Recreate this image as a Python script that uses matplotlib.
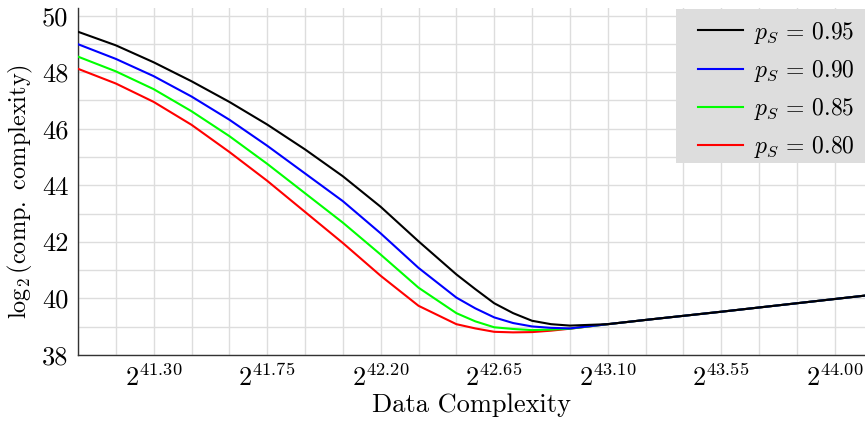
import matplotlib
matplotlib.use("Agg")
import matplotlib.pyplot as plt
from matplotlib.patches import Rectangle
from matplotlib.ticker import MultipleLocator, FixedLocator

plt.rcParams['font.family'] = 'serif'
plt.rcParams['font.serif'] = ['cmr10', 'DejaVu Serif']
plt.rcParams['mathtext.fontset'] = 'cm'
plt.rcParams['axes.formatter.use_mathtext'] = True

# log2 of data complexity
x = [41.00, 41.15, 41.30, 41.45, 41.60, 41.75, 41.90, 42.05, 42.20, 42.35,
     42.50, 42.575, 42.65, 42.725, 42.80, 42.875, 42.95, 43.10, 43.25,
     43.55, 43.85, 44.12]

p95 = [49.43, 48.95, 48.35, 47.68, 46.95, 46.15, 45.27, 44.32, 43.24, 42.02,
       40.85, 40.33, 39.83, 39.48, 39.21, 39.09, 39.04, 39.09, 39.24,
       39.53, 39.83, 40.10]
p90 = [48.99, 48.47, 47.86, 47.14, 46.32, 45.40, 44.42, 43.44, 42.30, 41.08,
       40.03, 39.65, 39.33, 39.13, 39.01, 38.96, 38.94, 39.09, 39.24,
       39.53, 39.83, 40.10]
p85 = [48.55, 48.03, 47.40, 46.62, 45.74, 44.76, 43.72, 42.68, 41.55, 40.38,
       39.48, 39.19, 38.98, 38.92, 38.88, 38.90, 38.93, 39.09, 39.24,
       39.53, 39.83, 40.10]
p80 = [48.12, 47.60, 46.95, 46.14, 45.18, 44.16, 43.06, 41.96, 40.80, 39.74,
       39.09, 38.94, 38.82, 38.80, 38.81, 38.86, 38.93, 39.09, 39.24,
       39.53, 39.83, 40.10]

series = [(p95, 'black', r'$p_S\,=\,0.95$'),
          (p90, '#0000ff', r'$p_S\,=\,0.90$'),
          (p85, '#00ff00', r'$p_S\,=\,0.85$'),
          (p80, '#ff0000', r'$p_S\,=\,0.80$')]

xticks = [41.30, 41.75, 42.20, 42.65, 43.10, 43.55, 44.00]
yticks = [38, 40, 42, 44, 46, 48, 50]

fig = plt.figure(figsize=(8.65, 4.23), dpi=100)
ax = fig.add_axes([78/865, 1 - 355/423, 1 - 78/865, 347/423])

for i, (ys, col, lab) in enumerate(series):
    ax.plot(x, ys, color=col, lw=1.5, label=lab, zorder=10 - i)

ax.set_xlim(41.0, 44.12)
ax.set_ylim(38, 50.27)

ax.xaxis.set_major_locator(FixedLocator(xticks))
ax.set_xticklabels([r'$2^{%.2f}$' % t for t in xticks])
ax.xaxis.set_minor_locator(MultipleLocator(0.15, offset=0.05))
ax.set_yticks(yticks)
ax.set_yticklabels([str(t) for t in yticks])
ax.yaxis.set_minor_locator(MultipleLocator(1))

ax.grid(True, which='both', color='#dddddd', lw=1.0)
ax.set_axisbelow(True)
ax.tick_params(which='both', length=0, labelsize=19)
ax.tick_params(axis='x', pad=7)
ax.tick_params(axis='y', pad=7)

for s in ['top', 'right']:
    ax.spines[s].set_visible(False)
for s in ['left', 'bottom']:
    ax.spines[s].set_color('#333333')
    ax.spines[s].set_linewidth(1.0)

ax.set_xlabel('Data Complexity', fontsize=19, labelpad=1)
ax.set_ylabel(r'$\log_2(\mathrm{comp.\ complexity})$', fontsize=17.5)
ax.yaxis.set_label_coords(-0.055, 0.47)

# legend background box
ax.add_patch(Rectangle((0.76, 0.553), 0.24, 0.444, transform=ax.transAxes,
                       facecolor='#dddddd', edgecolor='none', zorder=15,
                       clip_on=False))
leg = ax.legend(loc='upper right', bbox_to_anchor=(1.0, 0.997), borderaxespad=0,
                fontsize=17, frameon=False, handlelength=1.9,
                handletextpad=0.45, labelspacing=0.52, borderpad=0.45)
leg.set_zorder(20)

fig.savefig('out.png', dpi=100)
